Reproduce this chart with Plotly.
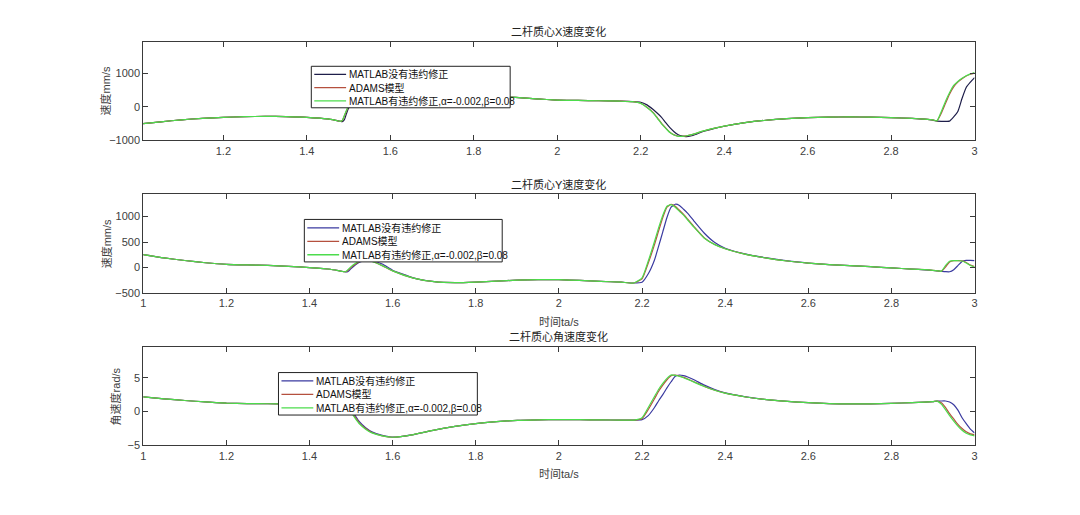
import plotly.graph_objects as go

# ---------------- data ----------------
T = [1.0, 1.05, 1.1, 1.15, 1.2, 1.25, 1.3, 1.35, 1.4, 1.45,
     1.47, 1.48, 1.485, 1.49, 1.495, 1.5, 1.51, 1.52, 1.535, 1.55,
     1.575, 1.6, 1.65, 1.7, 1.75, 1.8, 1.85, 1.9, 1.95, 2.0,
     2.05, 2.1, 2.15, 2.18, 2.2, 2.215, 2.23, 2.24, 2.25, 2.26,
     2.27, 2.28, 2.29, 2.3, 2.31, 2.325, 2.35, 2.375, 2.4, 2.45,
     2.5, 2.55, 2.6, 2.65, 2.7, 2.75, 2.8, 2.85, 2.88, 2.9,
     2.91, 2.92, 2.93, 2.94, 2.95, 2.96, 2.97, 2.98, 2.99, 3.0]

# X velocity (mm/s)
X_blue = [-510, -445, -385, -340, -312, -292, -282, -288, -310, -360,
          -405, -430, -440, -380, -200, -40, 150, 300, 420, 468,
          480, 470, 440, 405, 370, 340, 310, 285, 240, 205,
          195, 184, 172, 160, 140, 60, -80, -190, -310, -470,
          -620, -740, -834, -875, -885, -855, -735, -650, -578, -472,
          -398, -350, -320, -305, -300, -305, -320, -345, -368, -395,
          -425, -430, -430, -425, -300, -136, 250, 580, 737, 873]
X_red = [-510, -445, -385, -340, -312, -292, -282, -288, -310, -360,
         -405, -430, -405, -270, -120, 10, 180, 315, 425, 468,
         480, 470, 440, 405, 370, 340, 310, 285, 240, 205,
         195, 184, 170, 155, 110, -10, -170, -325, -490, -628,
         -758, -836, -876, -881, -865, -822, -720, -641, -572, -470,
         -398, -350, -320, -305, -300, -305, -320, -345, -365, -385,
         -418, -200, 90, 380, 600, 740, 840, 920, 975, 1010]
X_green = [-510, -445, -385, -340, -312, -292, -282, -288, -310, -360,
           -405, -430, -400, -250, -100, 30, 200, 330, 430, 470,
           480, 470, 440, 405, 370, 340, 310, 285, 240, 205,
           195, 184, 170, 155, 105, -20, -184, -340, -504, -640,
           -766, -840, -878, -880, -862, -820, -718, -640, -572, -470,
           -398, -350, -320, -305, -300, -305, -320, -345, -365, -385,
           -415, -150, 155, 420, 640, 760, 855, 930, 985, 1028]

# Y velocity (mm/s)
Y_blue = [255, 190, 140, 95, 64, 52, 45, 25, 0, -32,
          -60, -76, -80, -85, -60, -20, 50, 105, 140, 135,
          70, -50, -200, -274, -293, -282, -262, -245, -236, -236,
          -250, -268, -284, -300, -285, -120, 150, 420, 700, 980,
          1180, 1238, 1215, 1140, 1060, 910, 671, 490, 380, 265,
          190, 132, 90, 60, 39, 18, -6, -28, -42, -56,
          -64, -71, -78, -80, -40, 40, 120, 140, 140, 135]
Y_red = [255, 190, 140, 95, 64, 52, 45, 25, 0, -32,
         -60, -76, -80, -70, -35, 5, 65, 115, 144, 125,
         40, -64, -204, -274, -293, -282, -262, -245, -236, -236,
         -250, -268, -284, -300, -220, 90, 450, 720, 980, 1180,
         1238, 1200, 1120, 1040, 945, 800, 580, 452, 368, 260,
         187, 130, 90, 60, 39, 18, -6, -28, -40, -52,
         -62, -71, 10, 110, 135, 138, 135, 100, 50, 20]
Y_green = [255, 190, 140, 95, 64, 52, 45, 25, 0, -32,
           -60, -76, -80, -60, -20, 20, 80, 125, 146, 120,
           40, -64, -204, -274, -293, -282, -262, -245, -236, -236,
           -250, -268, -284, -300, -200, 130, 510, 780, 1025, 1200,
           1230, 1180, 1100, 1025, 930, 790, 574, 450, 368, 260,
           187, 130, 90, 60, 39, 18, -6, -28, -40, -52,
           -62, -71, 40, 123, 135, 135, 130, 90, 40, 10]

# angular velocity (rad/s)
W_blue = [2.16, 1.88, 1.63, 1.42, 1.25, 1.18, 1.15, 1.14, 1.15, 1.22,
          1.28, 1.3, 1.3, 1.2, 0.8, 0.3, -0.6, -1.5, -2.4, -3.0,
          -3.5, -3.78, -3.4, -2.74, -2.2, -1.78, -1.5, -1.3, -1.22, -1.18,
          -1.2, -1.24, -1.26, -1.26, -1.2, -0.6, 0.6, 1.6, 2.5, 3.5,
          4.4, 5.2, 5.4, 5.3, 5.1, 4.7, 3.9, 3.25, 2.75, 2.17,
          1.76, 1.5, 1.31, 1.18, 1.12, 1.13, 1.21, 1.32, 1.4, 1.48,
          1.55, 1.56, 1.56, 1.4, 1.0, 0.2, -0.92, -1.8, -2.6, -3.16]
W_red = [2.16, 1.88, 1.63, 1.42, 1.25, 1.18, 1.15, 1.14, 1.15, 1.22,
         1.28, 1.3, 1.27, 1.0, 0.55, 0.05, -0.85, -1.7, -2.5, -3.1,
         -3.6, -3.8, -3.4, -2.74, -2.2, -1.78, -1.5, -1.3, -1.22, -1.18,
         -1.2, -1.24, -1.26, -1.26, -1.05, 0.3, 1.9, 3.0, 3.9, 4.7,
         5.3, 5.4, 5.25, 5.05, 4.8, 4.4, 3.72, 3.15, 2.72, 2.15,
         1.75, 1.5, 1.31, 1.18, 1.12, 1.13, 1.21, 1.32, 1.4, 1.48,
         1.55, 1.3, 0.6, -0.3, -1.1, -1.9, -2.5, -3.0, -3.3, -3.45]
W_green = [2.16, 1.88, 1.63, 1.42, 1.25, 1.18, 1.15, 1.14, 1.15, 1.22,
           1.28, 1.3, 1.25, 0.9, 0.4, -0.1, -1.0, -1.8, -2.6, -3.15,
           -3.6, -3.8, -3.4, -2.74, -2.2, -1.78, -1.5, -1.3, -1.22, -1.18,
           -1.2, -1.24, -1.26, -1.26, -0.92, 0.6, 2.23, 3.3, 4.17, 4.9,
           5.4, 5.35, 5.2, 5.0, 4.75, 4.35, 3.7, 3.15, 2.72, 2.15,
           1.75, 1.5, 1.31, 1.18, 1.12, 1.13, 1.21, 1.32, 1.4, 1.48,
           1.55, 1.1, 0.29, -0.6, -1.41, -2.15, -2.77, -3.2, -3.45, -3.6]

SERIES_NAMES = ["MATLAB没有违约修正", "ADAMS模型", "MATLAB有违约修正,α=-0.002,β=0.08"]
TITLES = ["二杆质心X速度变化", "二杆质心Y速度变化", "二杆质心角速度变化"]
YLABELS = ["速度mm/s", "速度mm/s", "角速度rad/s"]
XLABEL = "时间ta/s"

# ---------------- styling ----------------
PAGE_W, PAGE_H, BODY = 1080, 515, 8          # browser body margin compensation
W, H = PAGE_W - 2 * BODY, PAGE_H - 2 * BODY
BLUE1 = "#1e1e4a"
BLUE = "#3a3aa0"
RED = "#b5503e"
GREEN = "#4cdc4c"
AX = "#3a3a3a"
TXT = "#404040"
FONT = "Liberation Sans, Arial, Noto Sans CJK SC, sans-serif"

L, R = 141, 977
boxes = [(42, 142), (196.7, 296.7), (350.7, 450.7)]   # top/bottom px on page
xranges = [[1.008, 3], [1, 3], [1, 3]]
yranges = [[-1000, 1950], [-500, 1430], [-5, 9.6]]
ydticks = [1000, 500, 5]
# legend boxes: left, top, right, bottom (page px)
legend_boxes = [(310, 67, 510, 109), (303, 222, 502, 265), (277, 377, 477, 420)]

def px(x):
    return (x - BODY) / W

def py(y):
    return 1 - (y - BODY) / H

fig = go.Figure()
data = [(X_blue, X_red, X_green), (Y_blue, Y_red, Y_green), (W_blue, W_red, W_green)]
colsets = []
for i, (b, r, g) in enumerate(data):
    xa = "x" if i == 0 else f"x{i+1}"
    ya = "y" if i == 0 else f"y{i+1}"
    cols = [BLUE1 if i == 0 else BLUE, RED, GREEN]
    colsets.append(cols)
    for name, vals, c in zip(SERIES_NAMES, (b, r, g), cols):
        fig.add_trace(go.Scatter(
            x=T, y=vals, mode="lines", name=name, xaxis=xa, yaxis=ya,
            line=dict(color=c, width=1.2, shape="spline", smoothing=0.5),
            showlegend=False))

layout = dict(
    width=W, height=H, margin=dict(l=0, r=0, t=0, b=0),
    paper_bgcolor="white", plot_bgcolor="white",
    font=dict(family=FONT, size=11, color=TXT),
)
for i in range(3):
    top, bot = boxes[i]
    sx = "" if i == 0 else str(i + 1)
    common = dict(showline=True, linecolor=AX, linewidth=1, mirror="ticks",
                  ticks="inside", ticklen=5, tickcolor=AX, tickwidth=1,
                  showgrid=False, zeroline=False,
                  tickfont=dict(family=FONT, size=11, color=TXT))
    layout["xaxis" + sx] = dict(common, domain=[px(L), px(R)], range=xranges[i],
                                anchor="y" + sx, tick0=1, dtick=0.2)
    layout["yaxis" + sx] = dict(common, domain=[py(bot), py(top)], range=yranges[i],
                                anchor="x" + sx, tick0=0, dtick=ydticks[i])
fig.update_layout(**layout)

ann = []
shapes = []
for i in range(3):
    top, bot = boxes[i]
    ann.append(dict(text=TITLES[i], x=px((L + R) / 2), y=py(top - 10.5), xref="paper", yref="paper",
                    showarrow=False, xanchor="center", yanchor="middle",
                    font=dict(family=FONT, size=11, color="#222222")))
    ylx = 104 if i < 2 else 114
    ann.append(dict(text=YLABELS[i], x=px(ylx), y=py((top + bot) / 2), xref="paper", yref="paper",
                    showarrow=False, textangle=-90, xanchor="center", yanchor="middle",
                    font=dict(family=FONT, size=11, color=TXT)))
    if i > 0:
        ann.append(dict(text=XLABEL, x=px((L + R) / 2), y=py(bot + 29), xref="paper", yref="paper",
                        showarrow=False, xanchor="center", yanchor="middle",
                        font=dict(family=FONT, size=11, color=TXT)))
    # legend box (drawn like MATLAB's compact legend)
    lx0, ly0, lx1, ly1 = legend_boxes[i]
    shapes.append(dict(type="rect", xref="paper", yref="paper", layer="above",
                       x0=px(lx0), x1=px(lx1), y0=py(ly1), y1=py(ly0),
                       fillcolor="white", line=dict(color="#222222", width=1)))
    step = (ly1 - ly0) / 3.15
    for k, (name, c) in enumerate(zip(SERIES_NAMES, colsets[i])):
        yy = ly0 + step * (k + 0.62)
        shapes.append(dict(type="line", xref="paper", yref="paper", layer="above",
                           x0=px(lx0 + 3), x1=px(lx0 + 35), y0=py(yy), y1=py(yy),
                           line=dict(color=c, width=1.3)))
        ann.append(dict(text=name, x=px(lx0 + 36), y=py(yy), xref="paper", yref="paper",
                        showarrow=False, xanchor="left", yanchor="middle",
                        font=dict(family=FONT, size=10, color="#111111")))
fig.update_layout(annotations=ann, shapes=shapes)

fig.write_html("out.html")
